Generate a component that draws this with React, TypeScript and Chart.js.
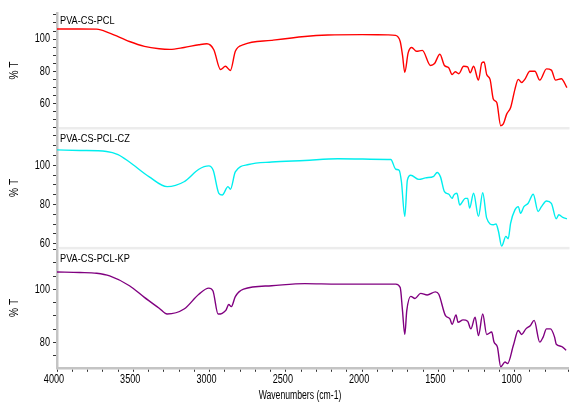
import React, { useEffect, useRef } from "react";
import { Chart, registerables } from "chart.js";

Chart.register(...registerables);

const SERIES_NAMES = ["PVA-CS-PCL", "PVA-CS-PCL-CZ", "PVA-CS-PCL-KP"];
const SERIES_COLORS = ["rgb(255,0,0)", "rgb(0,238,238)", "rgb(128,0,128)"];
const X_TITLE = "Wavenumbers (cm-1)";
const Y_TITLE = "% T";

// PVA-CS-PCL
const PCL_WN = [4000, 3850, 3740, 3655, 3525, 3427, 3330, 3260, 3167, 3070, 3017, 2972, 2928, 2896, 2863, 2831, 2777, 2594, 2375, 2224, 2000, 1833, 1781, 1750, 1735, 1720, 1698, 1675, 1643, 1605, 1551, 1525, 1490, 1460, 1432, 1410, 1389, 1366, 1334, 1308, 1291, 1269, 1237, 1215, 1200, 1183, 1161, 1139, 1117, 1091, 1074, 1052, 1026, 998, 976, 954, 933, 900, 867, 835, 791, 759, 731, 694, 657];
const PCL_T = [106.3, 106.3, 106.2, 103.7, 98.5, 95.5, 94.0, 93.6, 94.8, 96.5, 97.1, 93.4, 81.1, 83.1, 80.5, 92.4, 96.5, 99.2, 101.6, 102.5, 102.8, 102.6, 102.3, 98.5, 90.0, 79.4, 91.4, 94.8, 92.4, 93.0, 83.6, 84.8, 90.6, 83.6, 82.2, 78.0, 79.7, 78.5, 83.1, 82.7, 79.0, 83.1, 74.5, 85.2, 85.8, 78.0, 75.0, 62.6, 60.6, 46.2, 47.3, 53.4, 57.5, 68.8, 75.0, 73.0, 75.0, 80.0, 80.0, 74.5, 81.5, 80.7, 74.5, 75.4, 69.8];

// PVA-CS-PCL-CZ
const CZ_WN = [4000, 3850, 3675, 3600, 3525, 3395, 3278, 3167, 3070, 3005, 2976, 2939, 2917, 2879, 2863, 2831, 2744, 2593, 2376, 2158, 1833, 1812, 1779, 1757, 1742, 1720, 1703, 1681, 1627, 1584, 1530, 1508, 1486, 1460, 1431, 1410, 1399, 1378, 1360, 1323, 1308, 1295, 1269, 1237, 1209, 1183, 1139, 1122, 1106, 1085, 1057, 1042, 1026, 998, 976, 961, 939, 911, 878, 846, 824, 791, 759, 727, 710, 684, 657];
const CZ_T = [107.9, 107.6, 107.1, 105.5, 101.7, 94.1, 89.1, 91.6, 98.0, 99.7, 97.5, 85.7, 84.8, 89.1, 87.8, 96.6, 100.4, 101.7, 102.5, 103.4, 103.0, 103.0, 98.0, 97.5, 91.6, 73.9, 92.4, 94.9, 92.8, 93.6, 94.4, 96.3, 94.1, 86.5, 85.2, 83.1, 84.8, 85.7, 79.7, 83.1, 83.1, 78.1, 85.7, 73.9, 86.0, 73.0, 69.6, 70.0, 66.3, 58.7, 63.7, 62.5, 70.5, 77.2, 78.9, 75.5, 78.9, 80.6, 85.2, 76.4, 78.9, 81.8, 80.6, 72.7, 74.7, 73.4, 72.7];

// PVA-CS-PCL-KP
const KP_WN = [4000, 3850, 3740, 3655, 3525, 3427, 3330, 3278, 3167, 3070, 3005, 2978, 2944, 2917, 2892, 2874, 2857, 2831, 2777, 2593, 2375, 2158, 1833, 1779, 1750, 1735, 1720, 1707, 1681, 1653, 1616, 1573, 1519, 1497, 1453, 1424, 1410, 1384, 1371, 1338, 1308, 1287, 1259, 1237, 1209, 1183, 1150, 1135, 1113, 1091, 1063, 1046, 1008, 976, 954, 926, 896, 872, 835, 813, 791, 765, 738, 727, 694, 662];
const KP_T = [106.6, 106.4, 106.1, 105.1, 101.4, 97.0, 92.9, 90.7, 92.6, 98.2, 100.5, 99.5, 90.7, 91.0, 92.2, 94.3, 93.5, 97.3, 100.1, 101.4, 102.2, 102.0, 102.0, 102.0, 100.7, 92.0, 83.0, 92.0, 97.4, 96.6, 98.5, 97.9, 99.1, 98.2, 90.1, 88.9, 86.8, 90.4, 87.6, 88.5, 88.0, 85.1, 89.5, 82.6, 90.7, 83.0, 83.9, 80.1, 78.3, 70.8, 72.6, 72.0, 78.9, 84.5, 83.0, 85.1, 86.4, 88.3, 80.1, 82.0, 85.1, 85.1, 82.0, 79.3, 78.5, 77.0];

const X_MIN = 650;
const X_MAX = 4000;
const X_MAJOR = 500;
const Y_MAJOR = 20;

const FONT = '"Liberation Sans", Arial, sans-serif';

function pts(wn: number[], t: number[]) {
  return wn.map((w, i) => ({ x: w, y: t[i] }));
}

function yScale(min: number, max: number, weight: number) {
  return {
    type: "linear" as const,
    position: "left" as const,
    stack: "ir",
    stackWeight: weight,
    min,
    max,
    grid: { drawOnChartArea: false, drawTicks: true, tickLength: 4, tickColor: "#333" },
    border: { color: "#c4c4c4", width: 2.5 },
    ticks: {
      stepSize: 5,
      includeBounds: false,
      autoSkip: false,
      padding: 2,
      font: { family: FONT, size: 11 },
      callback: () => "",
    },
    title: { display: false },
    afterFit: (s: any) => {
      s.width = 57;
    },
  };
}

function squeezedText(ctx: CanvasRenderingContext2D, text: string, x: number, y: number, align: CanvasTextAlign, size: number, sx: number, rot = 0) {
  ctx.save();
  ctx.font = `${size}px ${FONT}`;
  ctx.translate(x, y);
  if (rot) ctx.rotate(rot);
  ctx.scale(sx, 1);
  ctx.textAlign = align;
  ctx.textBaseline = "middle";
  ctx.fillText(text, 0, 0);
  ctx.restore();
}

const Y_IDS = ["yPCL", "yCZ", "yKP"];

const panelPlugin = {
  id: "panels",
  beforeDatasetsDraw(chart: any) {
    const { ctx, chartArea } = chart;
    ctx.save();
    ctx.fillStyle = "#ececec";
    for (const id of ["yPCL", "yCZ"]) {
      const s = chart.scales[id];
      ctx.fillRect(chartArea.left + 1.5, s.bottom - 1, chartArea.right - chartArea.left, 2.5);
    }
    ctx.restore();
  },
  afterDraw(chart: any) {
    const { ctx, chartArea } = chart;
    ctx.save();
    ctx.fillStyle = "#000";
    const offs = [8, 11, 11];
    Y_IDS.forEach((id, i) => {
      const s = chart.scales[id];
      squeezedText(ctx, SERIES_NAMES[i], chartArea.left + 3, s.top + offs[i], "left", 11.5, 0.8);
      for (const t of s.ticks) {
        if (Math.abs(t.value % Y_MAJOR) < 1e-6) {
          squeezedText(ctx, String(t.value), 50, s.getPixelForValue(t.value), "right", 12, 0.76);
        }
      }
      squeezedText(ctx, Y_TITLE, 15, (s.top + s.bottom) / 2, "center", 12, 0.85, -Math.PI / 2);
    });
    const xs = chart.scales.x;
    for (const t of xs.ticks) {
      if (t.value % X_MAJOR === 0) {
        squeezedText(ctx, String(t.value), xs.getPixelForValue(t.value) - 3, xs.top + 12, "center", 12, 0.76);
      }
    }
    squeezedText(ctx, X_TITLE, 300, 396, "center", 12, 0.72);
    ctx.restore();
  },
};

export default function App() {
  const ref = useRef<HTMLCanvasElement>(null);
  useEffect(() => {
    if (!ref.current) return;
    const chart = new Chart(ref.current, {
      type: "line",
      data: {
        datasets: [
          { label: SERIES_NAMES[0], data: pts(PCL_WN, PCL_T), yAxisID: "yPCL", borderColor: SERIES_COLORS[0] },
          { label: SERIES_NAMES[1], data: pts(CZ_WN, CZ_T), yAxisID: "yCZ", borderColor: SERIES_COLORS[1] },
          { label: SERIES_NAMES[2], data: pts(KP_WN, KP_T), yAxisID: "yKP", borderColor: SERIES_COLORS[2] },
        ].map((d) => ({ ...d, borderWidth: 1.4, pointRadius: 0, fill: false, cubicInterpolationMode: "monotone" as const })),
      },
      options: {
        animation: false,
        responsive: false,
        layout: { padding: { top: 13, left: 0, right: 0, bottom: 11 } },
        plugins: { legend: { display: false }, tooltip: { enabled: false }, title: { display: false } },
        scales: {
          x: {
            type: "linear",
            position: "bottom",
            reverse: true,
            min: X_MIN,
            max: X_MAX,
            grid: { drawOnChartArea: false, drawTicks: true, tickLength: 4, tickColor: "#333" },
            border: { color: "#c4c4c4", width: 2.5 },
            ticks: {
              stepSize: 100,
              autoSkip: false,
              maxRotation: 0,
              padding: 3,
              font: { family: FONT, size: 11 },
              callback: () => "",
            },
          },
          yKP: yScale(70.4, 115.7, 121),
          yCZ: yScale(57.8, 119.1, 121),
          yPCL: yScale(44.8, 116.2, 116),
        },
      },
      plugins: [panelPlugin],
    });
    return () => chart.destroy();
  }, []);
  return (
    <div style={{ position: "absolute", left: 0, top: 0, width: 571, height: 402, background: "#fff" }}>
      <canvas ref={ref} width={571} height={402} />
    </div>
  );
}
